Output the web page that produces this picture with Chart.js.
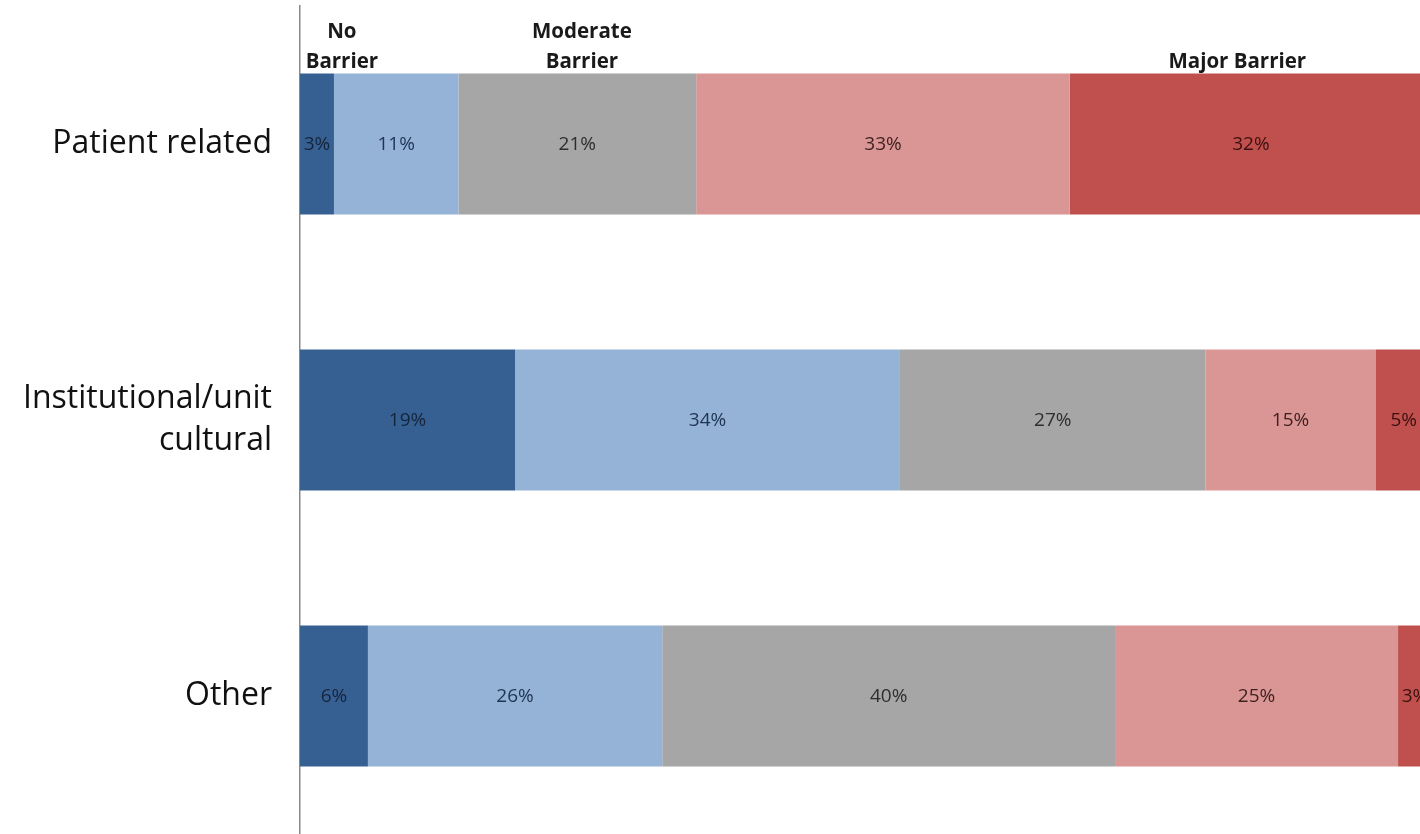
<!DOCTYPE html>
<html>
<head>
<meta charset="utf-8">
<script src="https://cdn.jsdelivr.net/npm/chart.js@4.4.1/dist/chart.umd.min.js"></script>
<style>
  html, body { margin: 0; padding: 0; background: #fff; overflow: hidden; }
  #wrap { position: relative; width: 1440px; height: 834px; }
</style>
</head>
<body>
<div id="wrap"><canvas id="chart"></canvas></div>
<script>
// categories (top to bottom)
var categories = ['Patient related', ['Institutional/unit', 'cultural'], 'Other'];

// percent of respondents, one array per rating step (no barrier -> major barrier)
var step1 = [3, 19, 6];
var step2 = [11, 34, 26];
var step3 = [21, 27, 40];
var step4 = [33, 15, 25];
var step5 = [32, 5, 3];

// header text over the scale
var headerLabels = [['No', 'Barrier'], ['Moderate', 'Barrier'], ['Major Barrier']];

var colors = ['#376092', '#95b3d7', '#a6a6a6', '#d99694', '#c0504d'];
var labelColors = ['#15243d', '#1f3352', '#2e2e2e', '#3d1f1f', '#3a1010'];

// where the header texts sit, in x-axis units
var headerAt = [3.7, 24.9, 82.8];

var segmentLabels = {
    id: 'segmentLabels',
    afterDatasetsDraw: function(chart) {
        var ctx = chart.ctx;
        ctx.save();
        ctx.font = '19px "Open Sans"';
        ctx.textAlign = 'center';
        ctx.textBaseline = 'middle';
        chart.data.datasets.forEach(function(ds, i) {
            var meta = chart.getDatasetMeta(i);
            ctx.fillStyle = labelColors[i];
            meta.data.forEach(function(bar, j) {
                var p = bar.getCenterPoint();
                ctx.fillText(ds.data[j] + '%', p.x, p.y + 1);
            });
        });
        ctx.restore();
    }
};

var headerText = {
    id: 'headerText',
    afterDraw: function(chart) {
        var ctx = chart.ctx;
        var x = chart.scales.x;
        ctx.save();
        ctx.font = 'bold 20.5px "Open Sans"';
        ctx.fillStyle = '#1a1a1a';
        ctx.textAlign = 'center';
        ctx.textBaseline = 'middle';
        headerLabels.forEach(function(lines, i) {
            var px = x.getPixelForValue(headerAt[i]);
            lines.forEach(function(line, k) {
                var y = 62 - (lines.length - 1 - k) * 30;
                ctx.fillText(line, px, y);
            });
        });
        ctx.restore();
    }
};

var series = [step1, step2, step3, step4, step5];

new Chart(document.getElementById('chart').getContext('2d'), {
    type: 'bar',
    data: {
        labels: categories,
        datasets: series.map(function(vals, i) {
            return {
                label: 'Step ' + (i + 1),
                data: vals,
                backgroundColor: colors[i],
                borderWidth: 0,
                barPercentage: 0.51,
                categoryPercentage: 1
            };
        })
    },
    options: {
        indexAxis: 'y',
        responsive: true,
        maintainAspectRatio: false,
        animation: false,
        layout: { padding: { top: 6, right: 8, bottom: 0, left: 0 } },
        plugins: {
            legend: { display: false },
            tooltip: { enabled: false }
        },
        scales: {
            x: {
                stacked: true,
                min: 0,
                max: 100,
                display: false
            },
            y: {
                stacked: true,
                grid: { display: false, drawTicks: false },
                border: { display: true, color: '#8a8a8a', width: 1.5 },
                ticks: {
                    color: '#111',
                    padding: 28,
                    font: { family: '"Open Sans"', size: 32, lineHeight: 1.31 }
                },
                afterFit: function(scale) {
                    scale.width = 300;
                    scale.paddingTop = 0;
                    scale.paddingBottom = 0;
                }
            }
        }
    },
    plugins: [segmentLabels, headerText]
});
</script>
</body>
</html>
